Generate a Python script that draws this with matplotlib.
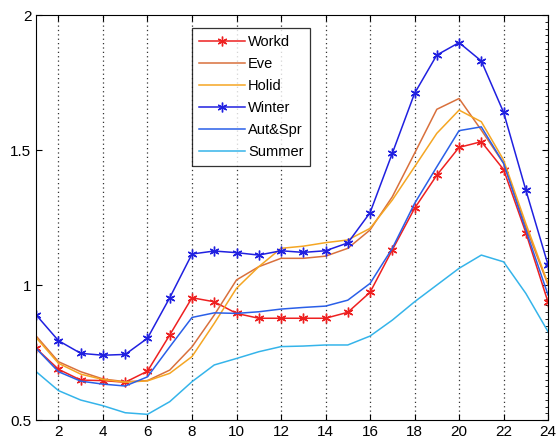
import matplotlib.pyplot as plt
from matplotlib.ticker import MultipleLocator

hours = list(range(1, 25))

workd = [0.765, 0.688, 0.648, 0.646, 0.640, 0.681, 0.815, 0.953, 0.938, 0.895, 0.877, 0.877,
         0.877, 0.877, 0.899, 0.973, 1.130, 1.284, 1.407, 1.510, 1.531, 1.428, 1.194, 0.936]
eve = [0.811, 0.716, 0.679, 0.652, 0.642, 0.646, 0.685, 0.771, 0.889, 1.019, 1.068, 1.099,
       1.099, 1.107, 1.136, 1.204, 1.327, 1.488, 1.651, 1.691, 1.574, 1.451, 1.216, 1.000]
holid = [0.805, 0.710, 0.670, 0.650, 0.640, 0.645, 0.673, 0.735, 0.858, 0.988, 1.068, 1.136,
         1.144, 1.157, 1.167, 1.210, 1.315, 1.438, 1.562, 1.648, 1.605, 1.463, 1.228, 1.005]
winter = [0.889, 0.794, 0.747, 0.740, 0.743, 0.803, 0.953, 1.115, 1.126, 1.120, 1.111, 1.127,
          1.121, 1.127, 1.156, 1.268, 1.488, 1.710, 1.852, 1.898, 1.830, 1.640, 1.352, 1.074]
autspr = [0.765, 0.679, 0.644, 0.633, 0.626, 0.660, 0.771, 0.880, 0.897, 0.895, 0.901, 0.911,
          0.917, 0.922, 0.944, 1.006, 1.136, 1.302, 1.438, 1.572, 1.586, 1.451, 1.204, 0.963]
summer = [0.679, 0.609, 0.574, 0.553, 0.527, 0.521, 0.568, 0.642, 0.704, 0.728, 0.753, 0.772,
          0.774, 0.778, 0.778, 0.811, 0.870, 0.938, 1.000, 1.062, 1.111, 1.086, 0.969, 0.827]

xticks = [2, 4, 6, 8, 10, 12, 14, 16, 18, 20, 22, 24]
yticks = [0.5, 1, 1.5, 2]

plt.rcParams['font.family'] = ['Liberation Sans', 'DejaVu Sans']

fig = plt.figure(figsize=(5.57, 4.44), dpi=100)
ax = fig.add_axes([0.065, 0.054, 0.919, 0.912])

# MATLAB-like asterisk marker
star = (6, 2, 0)
ax.plot(hours, workd, color='#ee2020', marker=star, ms=7, mew=1.0, lw=1.1, label='Workd')
ax.plot(hours, eve, color='#d9703c', lw=1.1, label='Eve')
ax.plot(hours, holid, color='#f5a623', lw=1.1, label='Holid')
ax.plot(hours, winter, color='#2020e0', marker=star, ms=7, mew=1.0, lw=1.1, label='Winter')
ax.plot(hours, autspr, color='#2a5fe8', lw=1.1, label='Aut&Spr')
ax.plot(hours, summer, color='#35b4ea', lw=1.1, label='Summer')

ax.set_xlim(1, 24)
ax.set_ylim(0.5, 2)
ax.set_xticks(xticks)
ax.set_xticklabels([str(t) for t in xticks])
ax.set_yticks(yticks)
ax.set_yticklabels(['0.5', '1', '1.5', '2'])
ax.yaxis.set_minor_locator(MultipleLocator(0.025))
ax.tick_params(which='major', direction='in', top=True, right=True, labelsize=11, length=4)
ax.tick_params(which='minor', direction='in', left=False, right=True, length=2)
ax.grid(axis='x', linestyle=(0, (1, 2.5)), color='#333333', lw=0.9)

leg = ax.legend(loc='upper left', bbox_to_anchor=(0.29, 0.985), fontsize=10.5, numpoints=1,
                frameon=True, fancybox=False, edgecolor='black', handlelength=3.2,
                borderpad=0.45, labelspacing=0.55, handletextpad=0.2)
leg.get_frame().set_linewidth(0.9)

fig.savefig('out.png', dpi=100)
